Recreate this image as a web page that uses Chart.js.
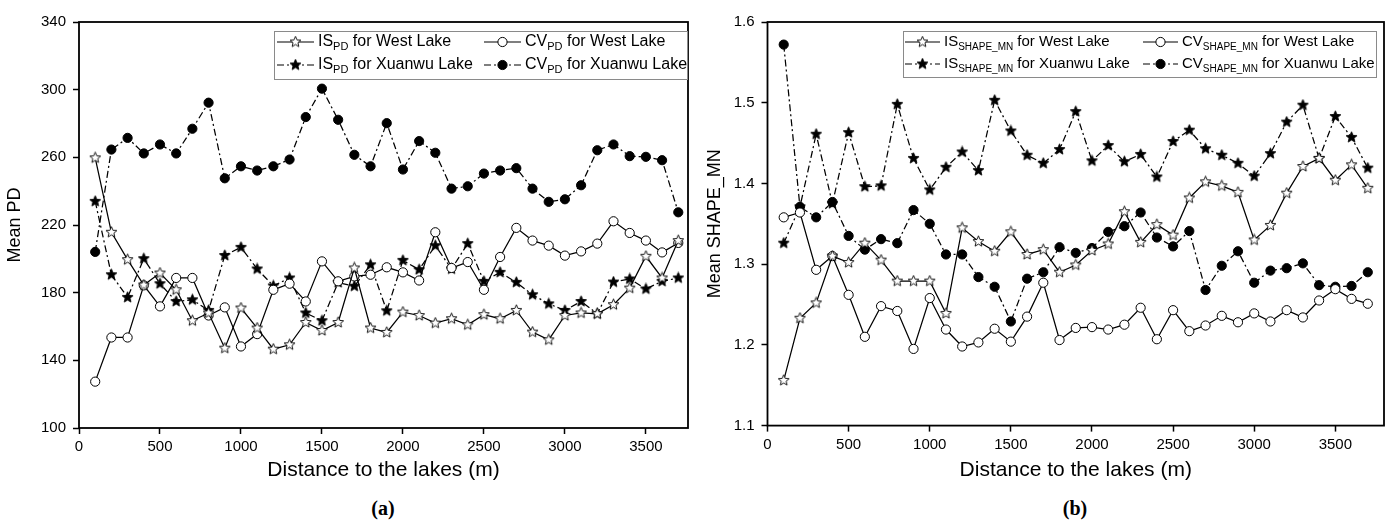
<!DOCTYPE html>
<html>
<head>
<meta charset="utf-8">
<script src="https://cdn.jsdelivr.net/npm/chart.js@4"></script>
<style>
  body { margin: 0; background: #fff; width: 1392px; height: 532px; position: relative; overflow: hidden; }
  canvas { position: absolute; top: 0; }
  #chartA { left: 0; }
  #chartB { left: 700px; }
  .cap { position: absolute; top: 497px; font: bold 20px "Liberation Serif", serif; width: 60px; text-align: center; }
</style>
</head>
<body>
<canvas id="chartA" width="700" height="490"></canvas>
<canvas id="chartB" width="692" height="490"></canvas>
<div class="cap" style="left:353px">(a)</div>
<div class="cap" style="left:1045px">(b)</div>
<script>
var distances = [100, 200, 300, 400, 500, 600, 700, 800, 900, 1000, 1100, 1200, 1300, 1400, 1500, 1600, 1700, 1800, 1900,
    2000, 2100, 2200, 2300, 2400, 2500, 2600, 2700, 2800, 2900, 3000, 3100, 3200, 3300, 3400, 3500, 3600, 3700];

// (a) mean PD
var isPdWest = [259.7, 215.7, 199.5, 184.5, 191.6, 181.7, 163.4, 168, 147.2, 170.9, 159.1, 146.6, 149.2, 162.4, 157.6, 162.4, 194.6, 159.1, 156.5,
    168.5, 166.5, 162, 164.6, 161, 167, 164.6, 169.5, 156.7, 152.1, 166.5, 168, 167.5, 172.9, 182.7, 201.5, 188.7, 210.8];
var cvPdWest = [127.4, 153.5, 153.5, 184.3, 171.9, 188.7, 188.7, 166.5, 171.3, 148.2, 155.5, 181.7, 185.3, 174.8, 198.5, 186.7, 189.6, 190.6, 195,
    192, 187.2, 215.7, 194.6, 198.1, 181.7, 201.1, 218.3, 210.8, 207.8, 201.9, 204.4, 209, 222.2, 215.3, 210.8, 203.8, 209.4];
var isPdXuanwu = [234, 190.6, 177.2, 200.1, 185.3, 174.8, 175.8, 169.5, 202, 206.8, 194, 184, 188.7, 168, 163.4, 186, 183.8, 196.5, 169.3,
    199.1, 193.6, 207.8, 194, 209, 186.7, 192, 186.1, 178.8, 173.4, 169.5, 174.8, 167.5, 186.3, 188.1, 182.2, 186.7, 188.7];
var cvPdXuanwu = [204.1, 264.6, 271.5, 262.3, 267.6, 262.3, 276.9, 292.3, 247.6, 254.7, 252.2, 254.7, 258.7, 283.8, 300.6, 282.2, 261.5, 254.7, 280.2,
    252.8, 269.6, 262.7, 241.5, 242.9, 250.4, 252.2, 253.6, 241.5, 233.7, 235.2, 243.5, 264.2, 267.6, 260.7, 260.3, 258.3, 227.5];

// (b) mean SHAPE_MN
var isShWest = [1.156, 1.233, 1.252, 1.310, 1.302, 1.326, 1.305, 1.279, 1.279, 1.279, 1.239, 1.345, 1.328, 1.316, 1.340, 1.312, 1.318, 1.290, 1.299,
    1.317, 1.325, 1.365, 1.327, 1.349, 1.336, 1.382, 1.402, 1.397, 1.389, 1.330, 1.348, 1.388, 1.421, 1.431, 1.404, 1.423, 1.394];
var cvShWest = [1.358, 1.364, 1.293, 1.310, 1.262, 1.210, 1.248, 1.242, 1.195, 1.258, 1.219, 1.198, 1.203, 1.220, 1.204, 1.235, 1.277, 1.206, 1.221,
    1.222, 1.219, 1.225, 1.246, 1.207, 1.243, 1.217, 1.224, 1.236, 1.228, 1.239, 1.229, 1.243, 1.234, 1.255, 1.269, 1.257, 1.251];
var isShXuanwu = [1.326, 1.371, 1.461, 1.375, 1.463, 1.396, 1.397, 1.498, 1.431, 1.392, 1.420, 1.439, 1.416, 1.503, 1.465, 1.435, 1.425, 1.442, 1.489,
    1.428, 1.447, 1.427, 1.436, 1.408, 1.452, 1.466, 1.443, 1.435, 1.425, 1.409, 1.437, 1.476, 1.497, 1.431, 1.483, 1.457, 1.419];
var cvShXuanwu = [1.572, 1.371, 1.358, 1.377, 1.335, 1.318, 1.331, 1.326, 1.367, 1.350, 1.312, 1.312, 1.284, 1.272, 1.229, 1.282, 1.290, 1.321, 1.314,
    1.320, 1.340, 1.347, 1.364, 1.333, 1.322, 1.341, 1.268, 1.298, 1.316, 1.277, 1.292, 1.295, 1.301, 1.274, 1.272, 1.273, 1.290];

var xTicks = [0, 500, 1000, 1500, 2000, 2500, 3000, 3500];

var FONT = "'Liberation Sans', Arial, sans-serif";
var TICKFONT = "'Liberation Sans Narrow', 'Liberation Sans', Arial, sans-serif";
var DASHDOT = [7, 3, 2, 3];

function starImage(size, filled) {
    var c = document.createElement("canvas");
    c.width = size; c.height = size;
    var ctx = c.getContext("2d");
    var cx = size / 2, cy = size / 2, R = size / 2 - 0.8, r = R * 0.45;
    ctx.beginPath();
    for (var i = 0; i < 10; i++) {
        var a = -Math.PI / 2 + i * Math.PI / 5;
        var rr = i % 2 ? r : R;
        ctx.lineTo(cx + rr * Math.cos(a), cy + rr * Math.sin(a));
    }
    ctx.closePath();
    ctx.fillStyle = filled ? "#000" : "#fff";
    ctx.fill();
    ctx.lineWidth = 0.9;
    ctx.strokeStyle = "#000";
    ctx.stroke();
    return c;
}
var openStar = starImage(13, false);
var fullStar = starImage(13, true);

function points(ys) {
    var out = [];
    for (var i = 0; i < distances.length; i++) out.push({ x: distances[i], y: ys[i] });
    return out;
}

// marker + line style for each of the 4 series kinds
var kinds = {
    isWest: { style: openStar, fill: "#fff", dash: [] },
    cvWest: { style: "circle", fill: "#fff", dash: [] },
    isXuan: { style: fullStar, fill: "#000", dash: DASHDOT },
    cvXuan: { style: "circle", fill: "#000", dash: DASHDOT }
};

function dataset(kind, ys, label) {
    var k = kinds[kind];
    return {
        label: label,
        data: points(ys),
        borderColor: "#000",
        borderWidth: 1.25,
        borderDash: k.dash,
        backgroundColor: k.fill,
        pointStyle: k.style,
        pointRadius: 4.6,
        pointBorderWidth: 1,
        pointBorderColor: "#000",
        pointBackgroundColor: k.fill,
        tension: 0,
        fill: false
    };
}

// frame around the plot + legend with subscripts
var framePlugin = {
    id: "frameLegend",
    afterDraw: function (chart) {
        var ctx = chart.ctx, a = chart.chartArea;
        ctx.save();
        ctx.strokeStyle = "#000";
        ctx.lineWidth = 1.8;
        ctx.strokeRect(a.left, a.top, a.right - a.left, a.bottom - a.top);

        var lg = chart.options.plugins.frameLegend;
        ctx.lineWidth = 1;
        ctx.strokeStyle = "#8a8a8a";
        ctx.strokeRect(lg.box[0] + 0.5, lg.box[1] + 0.5, lg.box[2], lg.box[3]);

        var mainFont = lg.size + "px " + FONT;
        lg.items.forEach(function (it) {
            var k = kinds[it.kind];
            var x0 = lg.cols[it.col], y = lg.rows[it.row];
            ctx.strokeStyle = "#000";
            ctx.lineWidth = 1.2;
            ctx.setLineDash(k.dash);
            ctx.beginPath();
            ctx.moveTo(x0, y);
            ctx.lineTo(x0 + lg.sample, y);
            ctx.stroke();
            ctx.setLineDash([]);
            var mx = x0 + lg.sample / 2;
            if (k.style === "circle") {
                ctx.beginPath();
                ctx.arc(mx, y, 4.6, 0, Math.PI * 2);
                ctx.fillStyle = k.fill;
                ctx.fill();
                ctx.lineWidth = 1;
                ctx.stroke();
            } else {
                ctx.drawImage(k.style, mx - k.style.width / 2, y - k.style.height / 2);
            }
            var tx = x0 + lg.sample + 4;
            ctx.fillStyle = "#000";
            ctx.textBaseline = "middle";
            ctx.font = mainFont;
            ctx.fillText(it.main, tx, y);
            tx += ctx.measureText(it.main).width;
            ctx.font = lg.subSize + "px " + FONT;
            ctx.fillText(it.sub, tx, y + 5);
            tx += ctx.measureText(it.sub).width;
            ctx.font = mainFont;
            ctx.fillText(it.rest, tx, y);
        });
        ctx.restore();
    }
};

function makeChart(id, sets, yCfg, xMax, yWidth, xHeight, padRight, legend) {
    return new Chart(document.getElementById(id), {
        type: "line",
        data: { datasets: sets },
        plugins: [framePlugin],
        options: {
            responsive: false,
            animation: false,
            devicePixelRatio: 1,
            layout: { padding: { left: 0, right: padRight, top: 22, bottom: 0 } },
            plugins: {
                legend: { display: false },
                tooltip: { enabled: false },
                frameLegend: legend
            },
            scales: {
                x: {
                    type: "linear",
                    min: 0,
                    max: xMax,
                    afterBuildTicks: function (s) {
                        s.ticks = xTicks.map(function (v) { return { value: v }; });
                    },
                    afterFit: function (s) { s.height = xHeight; },
                    grid: { drawOnChartArea: false, tickLength: 6, tickColor: "#000", tickWidth: 1.5 },
                    border: { display: false },
                    ticks: { color: "#000", padding: 4, maxRotation: 0, font: { family: TICKFONT, size: 15 },
                        callback: function (v) { return String(v); } },
                    title: { display: true, text: "Distance to the lakes (m)", color: "#000", padding: { top: 2, bottom: 7 },
                        font: { family: FONT, size: 21 } }
                },
                y: {
                    min: yCfg.min,
                    max: yCfg.max,
                    afterBuildTicks: function (s) {
                        s.ticks = yCfg.ticks.map(function (v) { return { value: v }; });
                    },
                    afterFit: function (s) { s.width = yWidth; },
                    grid: { drawOnChartArea: false, tickLength: 6, tickColor: "#000", tickWidth: 1.5 },
                    border: { display: false },
                    ticks: { color: "#000", padding: 7, font: { family: TICKFONT, size: 15 },
                        callback: function (v) { return yCfg.fmt(v); } },
                    title: { display: true, text: yCfg.title, color: "#000", padding: { top: 4, bottom: 0 },
                        font: { family: FONT, size: 18 } }
                }
            }
        }
    });
}

makeChart("chartA", [
    dataset("isWest", isPdWest, "IS PD for West Lake"),
    dataset("cvWest", cvPdWest, "CV PD for West Lake"),
    dataset("isXuan", isPdXuanwu, "IS PD for Xuanwu Lake"),
    dataset("cvXuan", cvPdXuanwu, "CV PD for Xuanwu Lake")
], { min: 100, max: 340, ticks: [100, 140, 180, 220, 260, 300, 340], title: "Mean PD",
    fmt: function (v) { return String(v); } }, 3760, 79, 62, 12, {
    box: [274, 31, 413, 48],
    rows: [42, 65],
    cols: [277, 484],
    sample: 37,
    size: 16,
    subSize: 11,
    items: [
        { kind: "isWest", col: 0, row: 0, main: "IS", sub: "PD", rest: " for West Lake" },
        { kind: "cvWest", col: 1, row: 0, main: "CV", sub: "PD", rest: " for West Lake" },
        { kind: "isXuan", col: 0, row: 1, main: "IS", sub: "PD", rest: " for Xuanwu Lake" },
        { kind: "cvXuan", col: 1, row: 1, main: "CV", sub: "PD", rest: " for Xuanwu Lake" }
    ]
});

makeChart("chartB", [
    dataset("isWest", isShWest, "IS SHAPE_MN for West Lake"),
    dataset("cvWest", cvShWest, "CV SHAPE_MN for West Lake"),
    dataset("isXuan", isShXuanwu, "IS SHAPE_MN for Xuanwu Lake"),
    dataset("cvXuan", cvShXuanwu, "CV SHAPE_MN for Xuanwu Lake")
], { min: 1.1, max: 1.6, ticks: [1.1, 1.2, 1.3, 1.4, 1.5, 1.6], title: "Mean SHAPE_MN",
    fmt: function (v) { return v.toFixed(1); } }, 3800, 67.5, 64.4, 8, {
    box: [203, 31, 473, 46],
    rows: [42, 64],
    cols: [205, 443],
    sample: 35,
    size: 15,
    subSize: 10,
    items: [
        { kind: "isWest", col: 0, row: 0, main: "IS", sub: "SHAPE_MN", rest: " for West Lake" },
        { kind: "cvWest", col: 1, row: 0, main: "CV", sub: "SHAPE_MN", rest: " for West Lake" },
        { kind: "isXuan", col: 0, row: 1, main: "IS", sub: "SHAPE_MN", rest: " for Xuanwu Lake" },
        { kind: "cvXuan", col: 1, row: 1, main: "CV", sub: "SHAPE_MN", rest: " for Xuanwu Lake" }
    ]
});
</script>
</body>
</html>
